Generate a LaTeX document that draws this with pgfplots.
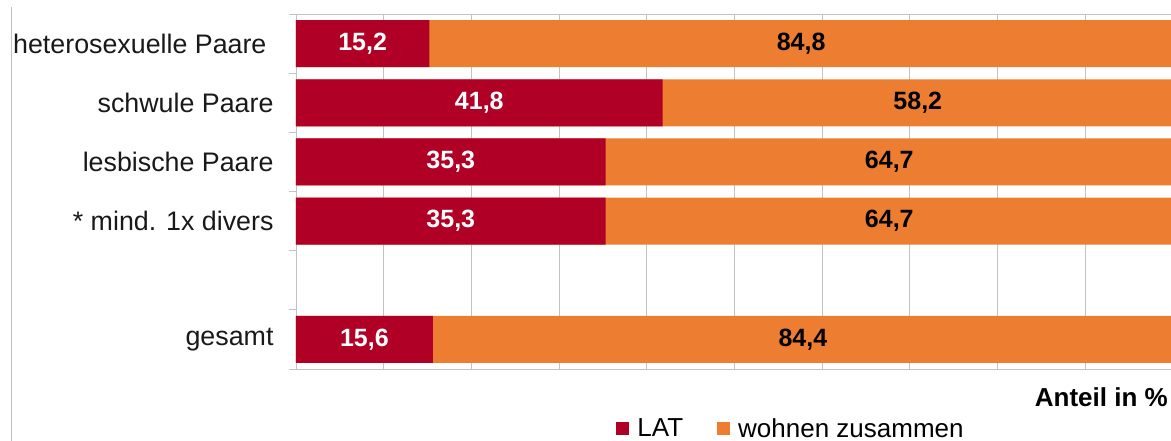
\documentclass[border=0pt]{standalone}
\usepackage{pgfplots}
\pgfplotsset{compat=1.18}
\usepackage{pgfplotstable}
\usepackage{fontspec}
\setmainfont{Liberation Sans}
\definecolor{latred}{RGB}{177,0,38}
\definecolor{wzorange}{RGB}{237,125,49}
\definecolor{gridgray}{RGB}{195,195,195}
\pgfplotstableread{
y lat woh
0 15.2 84.8
1 41.8 58.2
2 35.3 64.7
3 35.3 64.7
5 15.6 84.4
}\data
\begin{document}
\begin{tikzpicture}
\useasboundingbox (0,0) rectangle (1171pt,441pt);
\clip (0,0) rectangle (1171pt,441pt);
\draw[gridgray, line width=1pt] (11pt,-5pt) -- (11pt,434pt);
\begin{axis}[
  at={(296pt,72pt)}, anchor=south west,
  scale only axis, width=877pt, height=355pt,
  xmin=0, xmax=100, ymin=-0.5, ymax=5.5, y dir=reverse,
  xtick={0,10,...,100}, xticklabels={},
  xmajorgrids, grid style={gridgray, line width=0.9pt},
  major tick length=0pt,
  ytick={0,1,2,3,5},
  yticklabels={heterosexuelle Paare\kern7pt, schwule Paare, lesbische Paare, * mind. 1x divers, gesamt},
  minor ytick={-0.5,0.5,...,5.5}, minor tick length=7pt, tick align=outside,
  minor tick style={gridgray, line width=0.9pt},
  axis line style={gridgray, line width=0.9pt},
  yticklabel style={font=\fontsize{26.8}{30}\selectfont, xshift=-19pt, text=black!90},
  xlabel={Anteil in \%},
  xlabel style={font=\bfseries\fontsize{26}{30}\selectfont, at={(rel axis cs:0.9943,-0.0789)}, anchor=east, inner sep=0pt},
  legend style={at={(rel axis cs:0.5645,-0.168)}, anchor=center, draw=none, fill=none,
    font=\fontsize{26}{30}\selectfont, legend columns=2,
    /tikz/every odd column/.append style={column sep=6pt},
    /tikz/every even column/.append style={column sep=32pt}},
  legend cell align=left,
  reverse legend,
  legend image code/.code={\path[#1] (0pt,-6.5pt) rectangle (13pt,6.5pt);},
  clip=false,
]
\addplot[xbar, bar width=47pt, bar shift=0pt, fill=wzorange, draw=none]
  table[x expr=\thisrow{lat}+\thisrow{woh}, y=y] {\data};
\addlegendentry{wohnen zusammen}
\addplot[xbar, bar width=47pt, bar shift=0pt, fill=latred, draw=none]
  table[x=lat, y=y] {\data};
\addlegendentry{LAT}
\addplot[forget plot, draw=none, mark=none, point meta=explicit,
  nodes near coords={\pgfmathprintnumber[fixed,fixed zerofill,precision=1,use comma,assume math mode=true]{\pgfplotspointmeta}},
  every node near coord/.style={anchor=center, text=white, font=\bfseries\fontsize{25}{30}\selectfont}]
  table[x expr=\thisrow{lat}/2, y=y, meta=lat] {\data};
\addplot[forget plot, draw=none, mark=none, point meta=explicit,
  nodes near coords={\pgfmathprintnumber[fixed,fixed zerofill,precision=1,use comma,assume math mode=true]{\pgfplotspointmeta}},
  every node near coord/.style={anchor=center, text=black, font=\bfseries\fontsize{25}{30}\selectfont}]
  table[x expr=(\thisrow{lat}+100)/2, y=y, meta=woh] {\data};
\end{axis}
\end{tikzpicture}
\end{document}
